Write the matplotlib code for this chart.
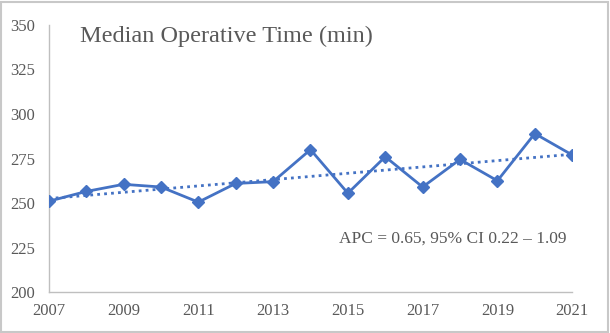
import numpy as np
import matplotlib.pyplot as plt
from matplotlib.patches import Rectangle

years = [2007, 2008, 2009, 2010, 2011, 2012, 2013, 2014, 2015, 2016, 2017, 2018, 2019, 2020, 2021]
median_time = [251, 256.5, 260.5, 259, 250.5, 261, 262, 280, 255.5, 276, 259, 274.5, 262.5, 289, 277]
yticks = [200, 225, 250, 275, 300, 325, 350]
xticks = [2007, 2009, 2011, 2013, 2015, 2017, 2019, 2021]

blue = '#4472C4'
grey = '#595959'

plt.rcParams['font.family'] = ['Liberation Serif', 'DejaVu Serif']

fig = plt.figure(figsize=(6.1, 3.33), dpi=100)
ax = fig.add_axes([0.080, 0.123, 0.858, 0.802])

ax.plot(years, median_time, color=blue, lw=2, marker='D', ms=6, zorder=3)

# linear trendline (like excel)
k, b = np.polyfit(years, median_time, 1)
xs = np.array([years[0], years[-1]])
ax.plot(xs, k * xs + b, color=blue, lw=2, ls=(0, (1, 1.5)), zorder=2)

ax.set_xlim(2007, 2021)
ax.set_ylim(200, 350)
ax.set_xticks(xticks)
ax.set_yticks(yticks)
ax.tick_params(length=0, labelsize=12, colors=grey)
ax.tick_params(axis='x', pad=8)
ax.tick_params(axis='y', pad=10)

for s in ['top', 'right']:
    ax.spines[s].set_visible(False)
for s in ['left', 'bottom']:
    ax.spines[s].set_color('#BFBFBF')
    ax.spines[s].set_linewidth(1)

fig.text(0.131, 0.89, 'Median Operative Time (min)', fontsize=17.5, color=grey, va='center')
ax.text(0.743, 0.282, 'APC = 0.65, 95% CI 0.22 \u2013 1.09', transform=fig.transFigure,
        fontsize=12.5, color=grey, ha='center', va='center')

fig.patches.append(Rectangle((0.002, 0.004), 0.994, 0.99, transform=fig.transFigure,
                             fill=False, edgecolor='#C8C8C8', lw=1.5))

fig.savefig('out.png', dpi=100)
